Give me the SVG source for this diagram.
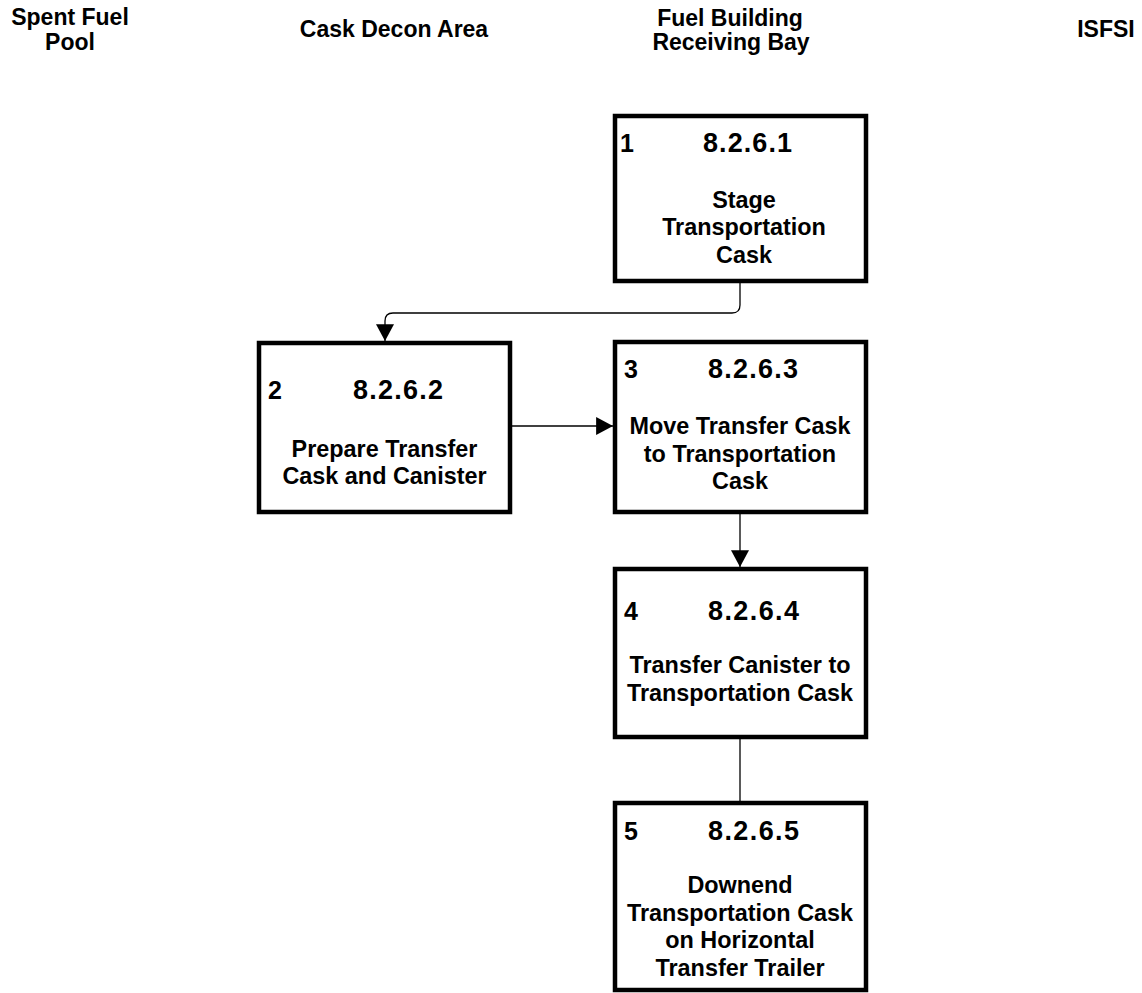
<svg xmlns="http://www.w3.org/2000/svg" width="1142" height="993" viewBox="0 0 1142 993">
<style>
text{font-family:"Liberation Sans",Arial,sans-serif;font-weight:bold;fill:#000}
.hdr{font-size:23px;text-anchor:middle}
.box{fill:#fff;stroke:#000;stroke-width:4.5}
.num{font-size:25px}
.sec{font-size:27px}
.body{font-size:23.4px;text-anchor:middle}
.conn{fill:none;stroke:#000;stroke-width:1.3}
</style>
<defs>
<marker id="arr" markerUnits="userSpaceOnUse" markerWidth="18" markerHeight="18" viewBox="0 0 16 16" refX="15" refY="8" orient="auto">
<path d="M0,0 L15,8 L0,16 Z" fill="#000"/>
</marker>
</defs>
<rect width="1142" height="993" fill="#fff"/>
<g id="headers">
<text class="hdr" x="70" y="25">Spent Fuel</text>
<text class="hdr" x="70" y="50">Pool</text>
<text class="hdr" x="394" y="37">Cask Decon Area</text>
<text class="hdr" x="730" y="26">Fuel Building</text>
<text class="hdr" x="731" y="50">Receiving Bay</text>
<text class="hdr" x="1106" y="37">ISFSI</text>
</g>
<g id="connectors">
<path class="conn" d="M740,283 V305 Q740,313 732,313 H393 Q385,313 385,321 V341" marker-end="url(#arr)"/>
<path class="conn" d="M512,426 H613" marker-end="url(#arr)"/>
<path class="conn" d="M740,512 V567" marker-end="url(#arr)"/>
<path class="conn" d="M740,739 V801"/>
</g>
<g id="node1">
<rect class="box" x="615" y="116" width="251" height="165"/>
<text class="num" x="620" y="152">1</text>
<text class="sec" x="703" y="152" textLength="89" lengthAdjust="spacing">8.2.6.1</text>
<text class="body" x="744" y="207.5">Stage</text>
<text class="body" x="744" y="235">Transportation</text>
<text class="body" x="744" y="262.5">Cask</text>
</g>
<g id="node2">
<rect class="box" x="259" y="343" width="251" height="169"/>
<text class="num" x="268" y="399">2</text>
<text class="sec" x="353" y="399" textLength="90" lengthAdjust="spacing">8.2.6.2</text>
<text class="body" x="384.5" y="456.5">Prepare Transfer</text>
<text class="body" x="384.5" y="484">Cask and Canister</text>
</g>
<g id="node3">
<rect class="box" x="615" y="342" width="251" height="170"/>
<text class="num" x="624" y="378">3</text>
<text class="sec" x="708" y="378" textLength="90" lengthAdjust="spacing">8.2.6.3</text>
<text class="body" x="740" y="434">Move Transfer Cask</text>
<text class="body" x="740" y="461.5">to Transportation</text>
<text class="body" x="740" y="489">Cask</text>
</g>
<g id="node4">
<rect class="box" x="615" y="569" width="251" height="168"/>
<text class="num" x="624" y="620">4</text>
<text class="sec" x="708" y="620" textLength="91" lengthAdjust="spacing">8.2.6.4</text>
<text class="body" x="740" y="673">Transfer Canister to</text>
<text class="body" x="740" y="700.5">Transportation Cask</text>
</g>
<g id="node5">
<rect class="box" x="615" y="803" width="251" height="187"/>
<text class="num" x="624" y="840">5</text>
<text class="sec" x="708" y="840" textLength="91" lengthAdjust="spacing">8.2.6.5</text>
<text class="body" x="740" y="893">Downend</text>
<text class="body" x="740" y="920.5">Transportation Cask</text>
<text class="body" x="740" y="948">on Horizontal</text>
<text class="body" x="740" y="975.5">Transfer Trailer</text>
</g>
</svg>
